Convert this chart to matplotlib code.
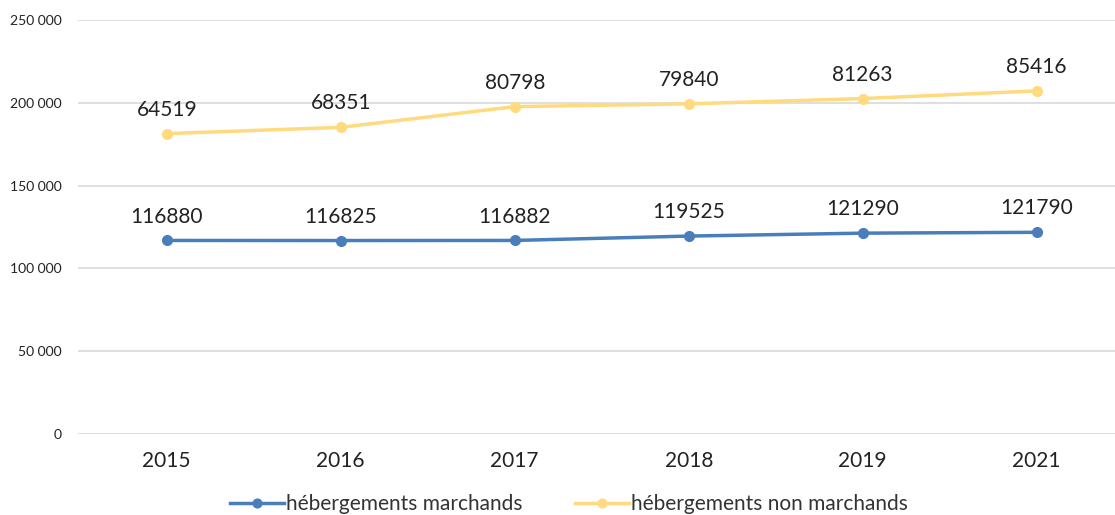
import matplotlib.pyplot as plt
from matplotlib.ticker import FuncFormatter

years = ["2015", "2016", "2017", "2018", "2019", "2021"]
marchands = [116880, 116825, 116882, 119525, 121290, 121790]
non_marchands = [64519, 68351, 80798, 79840, 81263, 85416]

plt.rcParams['font.family'] = ['Lato', 'DejaVu Sans']

blue = "#4a7ebb"
yellow = "#ffda7f"

fig = plt.figure(figsize=(11.15, 5.15), dpi=100)
ax = fig.add_axes([78 / 1115, 81 / 515, 1 - 78 / 1115, 414 / 515])

x = list(range(len(years)))
# the second series is stacked on top of the first
stacked = [a + b for a, b in zip(marchands, non_marchands)]

ax.plot(x, marchands, color=blue, lw=2.5, marker="o", ms=7, label="hébergements marchands", zorder=3)
ax.plot(x, stacked, color=yellow, lw=2.5, marker="o", ms=7, label="hébergements non marchands", zorder=3)

for i in x:
    ax.annotate(f"{marchands[i]}", (i, marchands[i]), xytext=(0, 10), textcoords="offset points",
                ha="center", va="bottom", fontsize=15, color="#222222")
    ax.annotate(f"{non_marchands[i]}", (i, stacked[i]), xytext=(0, 10), textcoords="offset points",
                ha="center", va="bottom", fontsize=15, color="#222222")

ax.set_ylim(0, 250000)
ax.set_xlim(-0.51, 5.45)
ax.set_yticks(range(0, 250001, 50000))
ax.yaxis.set_major_formatter(FuncFormatter(lambda v, p: f"{int(v):,}".replace(",", " ")))
ax.set_xticks(x)
ax.set_xticklabels(years, fontsize=15, color="#222222")
ax.tick_params(axis="y", labelsize=10, colors="#222222", length=0, pad=12)
ax.tick_params(axis="x", length=0, pad=12)
ax.grid(axis="y", color="#d9d9d9", lw=1.2)
ax.set_axisbelow(True)
for s in ax.spines.values():
    s.set_visible(False)

fig.legend(loc="lower center", bbox_to_anchor=(0.51, -0.035), ncol=2, frameon=False,
           fontsize=15, handlelength=2.6, handletextpad=0.1, columnspacing=2.5,
           labelcolor="#333333", markerscale=0.9)

fig.savefig("out.png", dpi=100)
